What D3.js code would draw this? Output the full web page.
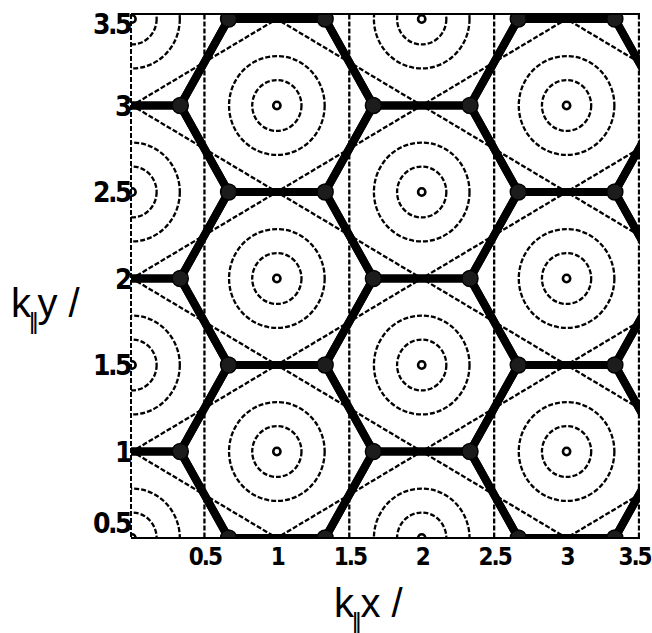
<!DOCTYPE html>
<html>
<head>
<meta charset="utf-8">
<script src="https://cdn.jsdelivr.net/npm/d3@7"></script>
<style>
  body { margin: 0; background: #fff; }
  svg { display: block; }
</style>
</head>
<body>
<svg id="chart" width="652" height="633"></svg>
<script>
// Zone map in the (k||x, k||y) plane: hexagonal zone boundaries, Bragg lines
// and constant-energy contours around every zone centre.

const xTicks = [0.5, 1, 1.5, 2, 2.5, 3, 3.5];
const yTicks = [0.5, 1, 1.5, 2, 2.5, 3, 3.5];

// zone centres: one k||y list per k||x column
const columnKx = [0, 1, 2, 3, 4];
const columnCentresKy = [
  [-0.5, 0.5, 1.5, 2.5, 3.5],
  [0, 1, 2, 3, 4],
  [-0.5, 0.5, 1.5, 2.5, 3.5],
  [0, 1, 2, 3, 4],
  [-0.5, 0.5, 1.5, 2.5, 3.5]
];

// contour radii around each centre (k||x units)
const contourRadii = [0.025, 0.17, 0.33];

// dashed Bragg lines: verticals k||x = const and diagonals k||y = ±0.5 k||x + c
const braggKx = [0.5, 1.5, 2.5, 3.5];
const braggSlopes = [0.5, -0.5];
const braggOffsets = [-2, -1, 0, 1, 2, 3, 4, 5];

// zone-boundary hexagon (flat top): half width in k||x, half height in k||y
const zoneHalfWidth = 2 / 3;
const zoneHalfHeight = 0.5;
// one k||y unit measured in k||x units for this lattice
const kyUnitInKx = 2 / Math.sqrt(3);

const svg = d3.select("#chart");

const x = d3.scaleLinear().domain([0, 3.5]).range([132, 639]);
const y = d3.scaleLinear().domain([0.5, 3.5]).range([538, 19]);

const plotLeft = 131, plotRight = 640, plotTop = 14, plotBottom = 538;

const defs = svg.append("defs");
defs.append("clipPath").attr("id", "plot-clip")
  .append("rect")
  .attr("x", plotLeft).attr("y", plotTop)
  .attr("width", plotRight - plotLeft).attr("height", plotBottom - plotTop);

const soft = defs.append("filter").attr("id", "soft")
  .attr("x", "-5%").attr("y", "-5%").attr("width", "110%").attr("height", "110%");
soft.append("feGaussianBlur").attr("stdDeviation", 0.6);

const plot = svg.append("g").attr("clip-path", "url(#plot-clip)");

// zone centres flattened
const centres = [];
columnKx.forEach((kx, i) => {
  columnCentresKy[i].forEach(ky => centres.push({ kx, ky }));
});

const dashed = { stroke: "#000", width: 2.3, dash: "5,2" };

// --- Bragg lines -------------------------------------------------------
const bragg = plot.append("g")
  .attr("fill", "none")
  .attr("stroke", dashed.stroke)
  .attr("stroke-width", dashed.width)
  .attr("stroke-dasharray", dashed.dash);

bragg.selectAll("line.vert")
  .data(braggKx)
  .join("line")
  .attr("class", "vert")
  .attr("x1", d => x(d)).attr("x2", d => x(d))
  .attr("y1", y(0.3)).attr("y2", y(3.7));

const diagonals = [];
braggSlopes.forEach(m => braggOffsets.forEach(c => diagonals.push({ m, c })));
const kxMin = -0.3, kxMax = 3.8;
bragg.selectAll("line.diag")
  .data(diagonals)
  .join("line")
  .attr("class", "diag")
  .attr("x1", x(kxMin)).attr("y1", d => y(d.m * kxMin + d.c))
  .attr("x2", x(kxMax)).attr("y2", d => y(d.m * kxMax + d.c));

// --- constant-energy contours ------------------------------------------
const rings = [];
centres.forEach(c => contourRadii.forEach((r, i) => rings.push({ ...c, r, i })));

plot.append("g")
  .attr("fill", "none")
  .attr("stroke", dashed.stroke)
  .selectAll("ellipse")
  .data(rings)
  .join("ellipse")
  .attr("cx", d => x(d.kx))
  .attr("cy", d => y(d.ky))
  .attr("rx", d => x(d.r) - x(0))
  .attr("ry", d => y(0.5) - y(0.5 + d.r / kyUnitInKx))
  .attr("stroke-dasharray", d => d.i === 0 ? null : dashed.dash)
  .attr("stroke-width", d => d.i === 0 ? 2.6 : dashed.width);

// --- zone boundaries ----------------------------------------------------
function hexCorners(c) {
  const w = zoneHalfWidth, h = zoneHalfHeight;
  return [
    [c.kx - w, c.ky], [c.kx - w / 2, c.ky + h], [c.kx + w / 2, c.ky + h],
    [c.kx + w, c.ky], [c.kx + w / 2, c.ky - h], [c.kx - w / 2, c.ky - h]
  ];
}

const hexLine = d3.line().x(d => x(d[0])).y(d => y(d[1])).curve(d3.curveLinearClosed);

plot.append("g")
  .attr("filter", "url(#soft)")
  .attr("fill", "none")
  .attr("stroke", "#000")
  .attr("stroke-width", 8)
  .attr("stroke-linejoin", "round")
  .selectAll("path")
  .data(centres)
  .join("path")
  .attr("d", d => hexLine(hexCorners(d)));

// zone corners
const cornerMap = new Map();
centres.forEach(c => hexCorners(c).forEach(p => {
  const key = Math.round(p[0] * 300) + "_" + Math.round(p[1] * 300);
  if (!cornerMap.has(key)) cornerMap.set(key, p);
}));
const corners = Array.from(cornerMap.values());

plot.append("g")
  .attr("filter", "url(#soft)")
  .selectAll("circle")
  .data(corners)
  .join("circle")
  .attr("cx", d => x(d[0]))
  .attr("cy", d => y(d[1]))
  .attr("r", 8)
  .attr("fill", "#1e1e1e")
  .attr("stroke", "#000")
  .attr("stroke-width", 1.5);

// --- frame ------------------------------------------------------------
const frame = svg.append("g").attr("stroke", "#000").attr("fill", "none");
frame.append("line").attr("x1", plotLeft).attr("x2", plotRight)
  .attr("y1", plotTop).attr("y2", plotTop).attr("stroke-width", 2);
frame.append("line").attr("x1", plotLeft).attr("x2", plotRight)
  .attr("y1", plotBottom).attr("y2", plotBottom).attr("stroke-width", 2);
frame.append("line").attr("x1", plotLeft).attr("x2", plotLeft)
  .attr("y1", plotTop).attr("y2", plotBottom)
  .attr("stroke-width", 2).attr("stroke-dasharray", "5,2");

// --- axes ---------------------------------------------------------------
const tickFont = "'DejaVu Sans Condensed', 'Liberation Sans Narrow', sans-serif";

const xAxis = svg.append("g")
  .attr("transform", `translate(0,${plotBottom})`)
  .call(d3.axisBottom(x).tickValues(xTicks).tickSize(0).tickPadding(10)
    .tickFormat(d3.format("")));
xAxis.select(".domain").remove();
xAxis.selectAll("text")
  .attr("font-family", tickFont)
  .attr("font-weight", "bold")
  .attr("font-size", 24)
  .attr("letter-spacing", -2)
  .attr("fill", "#000")
  .attr("dx", d => d === 3.5 ? -5 : 0);

const yAxis = svg.append("g")
  .attr("transform", `translate(${plotLeft},0)`)
  .call(d3.axisLeft(y).tickValues(yTicks).tickSize(0).tickPadding(1)
    .tickFormat(d3.format("")));
yAxis.select(".domain").remove();
yAxis.selectAll("text")
  .attr("font-family", tickFont)
  .attr("font-weight", "bold")
  .attr("font-size", 28)
  .attr("letter-spacing", -2.5)
  .attr("fill", "#000")
  .attr("dy", d => d === 3.5 ? "0.5em" : d === 0.5 ? "-0.2em" : "0.34em");

// --- axis titles ----------------------------------------------------------
const titleFont = "'Liberation Sans', Arial, sans-serif";

function axisTitle(xPos, yPos, letter) {
  const t = svg.append("text")
    .attr("x", xPos).attr("y", yPos)
    .attr("font-family", titleFont)
    .attr("font-size", 40)
    .attr("fill", "#000");
  t.append("tspan").text("k");
  t.append("tspan").attr("font-size", 24).attr("dx", -2).attr("dy", 12)
    .attr("letter-spacing", -3).text("||");
  t.append("tspan").attr("dy", -12).attr("dx", 2).text(letter + " /");
}

axisTitle(334, 617, "x");
axisTitle(11, 317, "y");
</script>
</body>
</html>
